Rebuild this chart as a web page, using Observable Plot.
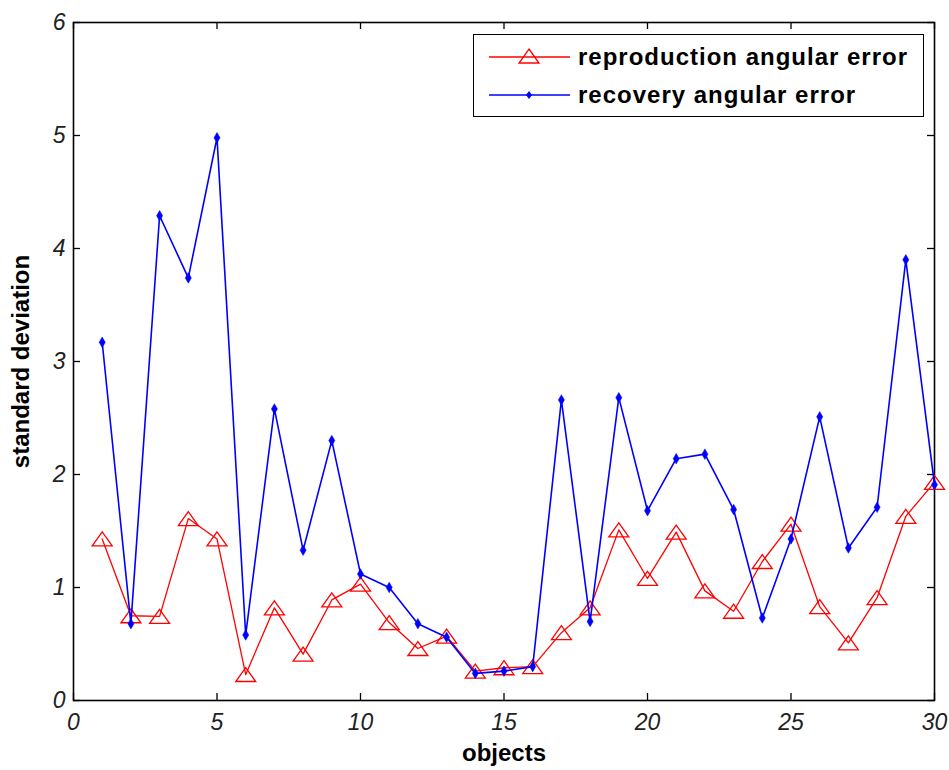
<!DOCTYPE html>
<html><head><meta charset="utf-8">
<script src="https://cdn.jsdelivr.net/npm/d3@7"></script>
<script src="https://cdn.jsdelivr.net/npm/@observablehq/plot@0.6"></script>
<style>
body{margin:0;background:#fff;}
#wrap{position:relative;width:949px;height:770px;}
#legend{position:absolute;left:473px;top:34px;width:451px;height:83px;border:1.5px solid #000;background:#fff;box-sizing:border-box;font-family:"Liberation Sans",Arial,sans-serif;font-weight:bold;font-size:24px;}
.row{position:absolute;left:15px;height:26px;display:flex;align-items:center;}
.row svg{width:82px;height:24px;margin-right:7px;}
.row span{letter-spacing:1px;}
</style></head>
<body><div id="wrap"><div id="chart"></div>
<div id="legend">
 <div class="row" style="top:9px"><svg viewBox="0 0 82 24"><line x1="0" y1="12" x2="81" y2="12" stroke="#ff0000" stroke-width="1.3"/><path d="M40,4 L50,18 L30,18 Z" fill="none" stroke="#ff0000" stroke-width="1.3"/></svg><span>reproduction angular error</span></div>
 <div class="row" style="top:47px"><svg viewBox="0 0 82 24"><line x1="0" y1="12" x2="81" y2="12" stroke="#0000ff" stroke-width="1.6"/><path d="M40,8 L43,12 L40,16 L37,12 Z" fill="#0000ff"/></svg><span>recovery angular error</span></div>
</div></div>
<script>
const objects = [1,2,3,4,5,6,7,8,9,10,11,12,13,14,15,16,17,18,19,20,21,22,23,24,25,26,27,28,29,30];
const reproduction = [1.43,0.75,0.745,1.61,1.43,0.23,0.82,0.41,0.89,1.03,0.69,0.46,0.57,0.26,0.29,0.30,0.60,0.82,1.51,1.08,1.49,0.97,0.79,1.23,1.56,0.83,0.51,0.91,1.63,1.93];
const recovery = [3.17,0.68,4.29,3.74,4.98,0.58,2.58,1.33,2.30,1.12,1.00,0.68,0.56,0.24,0.26,0.30,2.66,0.70,2.68,1.68,2.14,2.18,1.69,0.73,1.43,2.51,1.35,1.71,3.90,1.91];
const xTicks = [0,5,10,15,20,25,30];
const yTicks = [0,1,2,3,4,5,6];

const rows = objects.map((o,i)=>({o, rep: reproduction[i], rec: recovery[i]}));
const tri = {draw(ctx){ctx.moveTo(0,-7);ctx.lineTo(10,7);ctx.lineTo(-10,7);ctx.closePath();}};
const W = 949, H = 770, mL = 73, mR = 15, mT = 22, mB = 70, tick = 7;
const fw = W - mL - mR, fh = H - mT - mB;

const chart = Plot.plot({
  width:W, height:H, marginLeft:mL, marginRight:mR, marginTop:mT, marginBottom:mB,
  style:{fontFamily:"Liberation Sans, Arial, sans-serif", fontSize:"20px", color:"#000", background:"#fff"},
  x:{domain:[0,30]}, y:{domain:[0,6]},
  marks:[
    Plot.axisX(xTicks,{anchor:"bottom", tickSize:0, tickPadding:13, label:null, fill:"#222", fontStyle:"italic", fontSize:23, tickFormat:d=>String(d)}),
    Plot.axisY(yTicks,{anchor:"left", tickSize:0, tickPadding:8, label:null, fill:"#222", fontStyle:"italic", fontSize:23, tickFormat:d=>String(d)}),
    Plot.tickX(xTicks,{x:d=>d, insetTop:fh - tick, stroke:"#000", strokeWidth:1.3}),
    Plot.tickX(xTicks,{x:d=>d, insetBottom:fh - tick, stroke:"#000", strokeWidth:1.3}),
    Plot.tickY(yTicks,{y:d=>d, insetRight:fw - tick, stroke:"#000", strokeWidth:1.3}),
    Plot.tickY(yTicks,{y:d=>d, insetLeft:fw - tick, stroke:"#000", strokeWidth:1.3}),
    Plot.axisX([],{anchor:"bottom", tickSize:0, label:"objects", labelAnchor:"center", labelArrow:"none", labelOffset:60, fontWeight:"bold", fontSize:24}),
    Plot.axisY([],{anchor:"left", tickSize:0, label:"standard deviation", labelAnchor:"center", labelArrow:"none", labelOffset:62, fontWeight:"bold", fontSize:24}),
    Plot.frame({stroke:"#000", strokeWidth:1.6}),
    Plot.line(rows,{x:"o", y:"rep", stroke:"#ff0000", strokeWidth:1.3}),
    Plot.dot(rows,{x:"o", y:"rep", symbol:tri, r:5, stroke:"#ff0000", strokeWidth:1.3, fill:"none"}),
    Plot.line(rows,{x:"o", y:"rec", stroke:"#0000ff", strokeWidth:1.6}),
    Plot.dot(rows,{x:"o", y:"rec", symbol:"diamond", r:3.2, fill:"#0000ff", stroke:"#0000ff", strokeWidth:0.5})
  ]
});
document.getElementById("chart").appendChild(chart);
</script>
</body></html>
